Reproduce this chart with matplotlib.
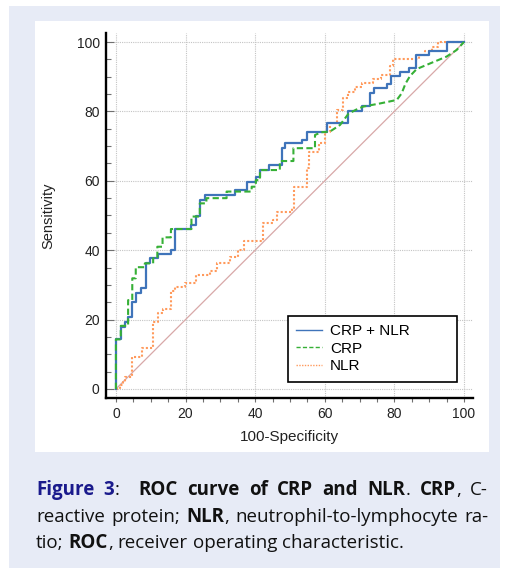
import matplotlib
matplotlib.use("Agg")
import matplotlib.pyplot as plt
from matplotlib.lines import Line2D
from matplotlib.patches import Rectangle
from matplotlib.ticker import MultipleLocator
from matplotlib.transforms import IdentityTransform

# ROC curves: 100-specificity (x) vs sensitivity (y)
# CRP + NLR: step curve, y is the level reached at each x
combo_x = [0, 0, 1.4, 2.6, 3.5, 4.7, 5.7, 7.2, 8.5, 9.8, 12.2, 15.8, 17.0, 21.7, 23.0,
           24.1, 25.6, 34.2, 37.7, 40.2, 41.4, 44.1, 47.6, 48.6, 53.4, 54.8, 60.7,
           66.8, 70.8, 73.0, 74.2, 78.0, 79.0, 81.6, 84.2, 86.2, 90.0, 95.0, 100]
combo_y = [0, 14.3, 17.9, 19.4, 20.8, 25.2, 27.8, 29.2, 36.2, 37.7, 38.9, 40.1, 46.1,
           47.3, 49.9, 54.5, 55.9, 57.3, 59.7, 61.2, 63.1, 64.6, 69.4, 70.8, 71.9,
           74.2, 76.6, 80.1, 81.6, 85.2, 86.7, 87.8, 90.2, 91.4, 92.6, 96.3, 97.4, 100, 100]

# CRP: vertices of the (partly smoothed) curve
crp_x = [0, 0, 1.4, 1.4, 3.5, 3.5, 4.7, 4.7, 5.7, 5.7, 8.3, 8.3, 10.7, 10.7, 11.9,
         11.9, 13.4, 13.4, 15.8, 15.8, 21.7, 21.7, 24.1, 24.1, 26.0, 26.0, 31.8, 31.8,
         39.0, 39.0, 40.2, 40.2, 41.4, 41.4, 47.1, 47.1, 51.0, 51.0, 57.2, 57.2, 59.0,
         61.5, 64.4, 66.8, 69.0, 71.1, 75.9, 80.7, 82.1, 83.2, 84.5, 86.4, 90.2, 95.0,
         97.9, 100]
crp_y = [0, 14.3, 14.3, 18.2, 18.2, 25.6, 25.6, 31.9, 31.9, 35.1, 35.1, 36.2, 36.2,
         37.7, 37.7, 41.0, 41.0, 43.7, 43.7, 46.1, 46.1, 49.7, 49.7, 53.5, 53.5, 55.0,
         55.0, 56.9, 56.9, 58.3, 58.3, 60.2, 60.2, 63.1, 63.1, 65.7, 65.7, 69.4, 69.4,
         73.2, 74.0, 74.2, 76.1, 79.3, 80.5, 81.4, 82.3, 83.3, 85.2, 88.0, 90.2, 92.2,
         93.8, 95.8, 97.7, 100]

# NLR: step curve
nlr_x = [0, 1.1, 1.9, 2.6, 4.5, 7.4, 10.7, 12.2, 13.6, 15.8, 17.0, 19.8, 23.0, 27.0,
         28.9, 32.8, 35.1, 36.8, 42.3, 45.0, 46.2, 50.5, 51.1, 54.8, 55.6, 58.4, 60.1,
         61.5, 63.4, 65.3, 66.8, 68.7, 70.8, 73.9, 76.3, 78.7, 79.7, 87.0, 88.8, 90.7,
         92.6, 100]
nlr_y = [0, 1.2, 2.1, 3.5, 9.3, 11.7, 19.4, 21.8, 23.0, 28.1, 29.3, 30.5, 32.9, 34.1,
         36.2, 38.0, 40.1, 42.6, 47.8, 48.7, 51.1, 52.3, 58.2, 63.6, 68.2, 71.0, 74.0,
         76.6, 80.4, 83.8, 85.7, 87.1, 88.1, 89.2, 90.6, 93.2, 95.1, 96.2, 97.4, 98.6,
         100, 100]

series_labels = ["CRP + NLR", "CRP", "NLR"]
series_colors = ["#3f74ba", "#36b036", "#ff9a5c"]
diag = [0, 100]

W, H = 505, 570
fig = plt.figure(figsize=(W / 100, H / 100), dpi=100)
fig.patch.set_facecolor("white")


def px_rect(x0, y0, x1, y1, color):
    # rectangle given in pixel coords, y measured from the top
    r = Rectangle((x0 / W, 1 - y1 / H), (x1 - x0) / W, (y1 - y0) / H,
                  transform=fig.transFigure, facecolor=color, edgecolor="none", zorder=-10)
    fig.add_artist(r)


px_rect(9, 6, 500, 568, "#e7ebf6")
px_rect(35, 21, 489, 452, "white")

ax = fig.add_axes([106 / W, 1 - 398 / H, 367 / W, 365 / H])
ax.set_facecolor("none")

ax.plot(diag, diag, color="#d8a8a8", lw=0.9, zorder=2)
ax.plot(nlr_x, nlr_y, color=series_colors[2], ls=(0, (1, 1)), lw=1.5,
        drawstyle="steps-post", zorder=3)
ax.plot(combo_x, combo_y, color=series_colors[0], lw=1.6,
        drawstyle="steps-post", zorder=4)
ax.plot(crp_x, crp_y, color=series_colors[1], ls=(0, (3, 1.6)), lw=1.5, zorder=5)

ax.set_xlim(-2.85, 102.6)
ax.set_ylim(-2.6, 102.6)
ax.xaxis.set_major_locator(MultipleLocator(20))
ax.xaxis.set_minor_locator(MultipleLocator(5))
ax.yaxis.set_major_locator(MultipleLocator(20))
ax.yaxis.set_minor_locator(MultipleLocator(5))
ax.grid(True, which="major", color="#c4c4c4", ls=(0, (1, 1)), lw=0.8)

for s in ["top", "right"]:
    ax.spines[s].set_visible(False)
for s in ["left", "bottom"]:
    ax.spines[s].set_linewidth(1.7)
    ax.spines[s].set_color("black")

ax.tick_params(axis="y", which="major", direction="in", length=6, width=0.8,
               color="#707070", pad=4.5)
ax.tick_params(axis="y", which="minor", direction="in", length=3.5, width=0.8,
               color="#707070")
ax.tick_params(axis="x", which="major", direction="out", length=3, width=0.8,
               color="#707070", pad=3.5)
ax.tick_params(axis="x", which="minor", direction="out", length=3, width=0.8,
               color="#707070")
for lab in ax.get_xticklabels() + ax.get_yticklabels():
    lab.set_fontfamily("Liberation Sans")
    lab.set_fontsize(10)
    lab.set_color("#222222")

ax.set_xlabel("100-Specificity", fontfamily="Liberation Sans", fontsize=11, color="#222222")
ax.set_ylabel("Sensitivity", fontfamily="Liberation Sans", fontsize=10.5, color="#222222")
ax.xaxis.set_label_coords(0.5, -0.088)
ax.yaxis.set_label_coords(-0.139, 0.5)

handles = [
    Line2D([], [], color=series_colors[0], lw=1),
    Line2D([], [], color=series_colors[1], lw=1, ls=(0, (3, 1.6))),
    Line2D([], [], color=series_colors[2], lw=1, ls=(0, (1, 1))),
]
leg = ax.legend(handles, series_labels, loc="upper left",
                bbox_to_anchor=(0.496, 0.0466, 0.46, 0.178), mode="expand",
                borderaxespad=0, fancybox=False, framealpha=1, handlelength=1.7,
                handletextpad=0.5, borderpad=0.55, labelspacing=0.22,
                prop={"family": "Liberation Sans", "size": 11})
leg.get_frame().set_edgecolor("black")
leg.get_frame().set_linewidth(1.2)

# caption, justified like the journal layout
cap_font = "Open Sans"
cap_size = 13.5
blue = "#1a1a8c"
black = "#111111"
cap_lines = [
    [[("Figure", True, blue)], [("3", True, blue), (":", False, black)], [],
     [("ROC", True, black)], [("curve", True, black)], [("of", True, black)],
     [("CRP", True, black)], [("and", True, black)],
     [("NLR", True, black), (".", False, black)],
     [("CRP", True, black), (",", False, black)], [("C-", False, black)]],
    [[("reactive", False, black)], [("protein;", False, black)],
     [("NLR", True, black), (",", False, black)],
     [("neutrophil-to-lymphocyte", False, black)], [("ra-", False, black)]],
    [[("tio;", False, black)], [("ROC", True, black), (",", False, black)],
     [("receiver", False, black)], [("operating", False, black)],
     [("characteristic.", False, black)]],
]
cap_baselines = [495, 521.5, 548]
cap_justify = [True, True, False]
cap_left, cap_right = 36, 488

renderer = fig.canvas.get_renderer()


def make_text(txt, bold, col):
    return fig.text(0, 0, txt, transform=IdentityTransform(), fontfamily=cap_font,
                    fontsize=cap_size, fontweight="bold" if bold else "normal",
                    color=col, va="baseline", ha="left")


probe_a = make_text("x x", False, black)
probe_b = make_text("xx", False, black)
space_w = probe_a.get_window_extent(renderer).width - probe_b.get_window_extent(renderer).width
probe_a.remove()
probe_b.remove()

for words, base, just in zip(cap_lines, cap_baselines, cap_justify):
    built = []
    for word in words:
        arts = []
        for txt, bold, col in word:
            t = make_text(txt, bold, col)
            arts.append((t, t.get_window_extent(renderer).width))
        built.append(arts)
    widths = [sum(w for _, w in arts) for arts in built]
    gaps = len(built) - 1
    gap = (cap_right - cap_left - sum(widths)) / gaps if just else space_w
    x = cap_left
    y = H - base
    for arts, wd in zip(built, widths):
        cx = x
        for t, w in arts:
            t.set_position((cx, y))
            cx += w
        x += wd + gap if arts else gap

fig.savefig("out.png", dpi=100)
